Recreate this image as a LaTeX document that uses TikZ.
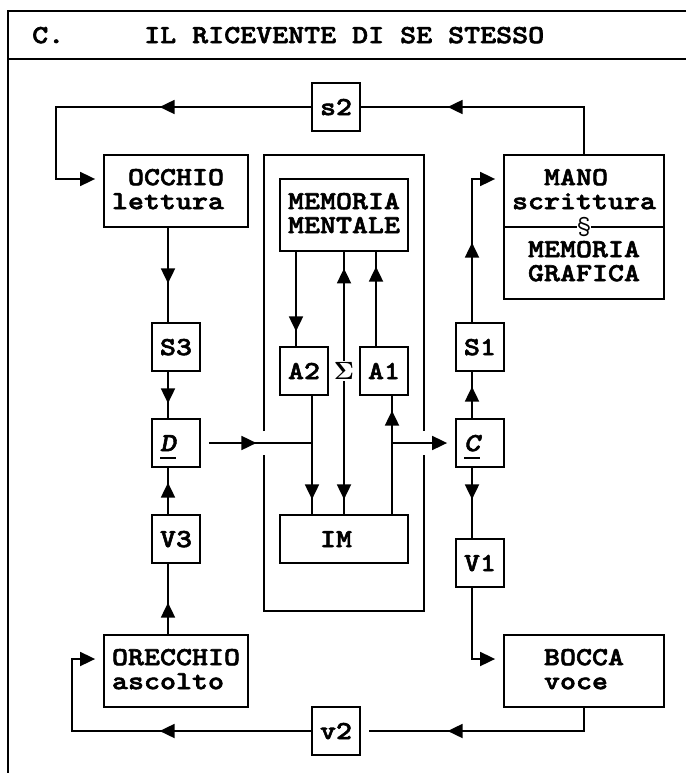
\documentclass[tikz,border=0pt]{standalone}
\usepackage{tikz}
\usepackage[no-math]{fontspec}
\usetikzlibrary{arrows.meta,decorations.markings}
\newfontfamily\cellafont{lmmonolt10-bold.otf}[FakeStretch=1.172, FakeBold=2.2]
\newfontfamily\cellaobliqua{lmmonolt10-boldoblique.otf}[FakeStretch=1.172, FakeBold=2.2]
\newcommand{\cella}{\cellafont\fontsize{26pt}{24pt}\selectfont}
\newcommand{\riga}{\rule[-3.9pt]{0pt}{24pt}}
\newcommand{\sotto}[1]{\rlap{\smash{\rule[-8pt]{16pt}{2.6pt}}}#1}

\begin{document}
\begin{tikzpicture}[x=16pt, y=-24pt,
  linea/.style={line width=1.8pt},
  casella/.style={draw, line width=1.8pt, inner sep=0pt, align=center, font=\cella,
    execute at begin node=\riga, execute at end node=\riga},
  quadro/.style={casella, minimum width=48pt, minimum height=48pt},
  organo/.style={casella, minimum width=144pt, minimum height=72pt},
  attivo/.style={casella, minimum width=160pt, minimum height=72pt},
  mente/.style={casella, minimum width=128pt, minimum height=#1},
  intestazione/.style={anchor=west, inner sep=0pt, font=\cella, execute at begin node=\riga},
  punta/.style={-{Triangle[length=15pt,width=14pt]}},
  freccia/.style={postaction={decorate, decoration={markings,
    mark=at position #1 with {\arrow{Triangle[length=15pt,width=14pt]}}}}},
  controfreccia/.style={postaction={decorate, decoration={markings,
    mark=at position #1 with {\arrowreversed{Triangle[length=15pt,width=14pt]}}}}}]
	\useasboundingbox (-0.5,-0.4583) rectangle (42.375,31.75);
	% cornice e intestazione
	\draw[linea] (42.375,0) -- (0,0) -- (0,31.75);
	\draw[linea] (0,2) -- (42.375,2);
	\node[intestazione] (sigla) at (1.5,1) {C.};
	\node[intestazione] (titolo) at (8.5,1) {IL RICEVENTE DI SE STESSO};
	% riquadro della mente
	\draw[linea] (16,17.5) -- (16,6) -- (26,6) -- (26,17.5);
	\draw[linea] (16,18.5) -- (16,25) -- (26,25) -- (26,18.5);
	% caselle
	\node[quadro] (s2) at (20.5,4) {s2};
	\node[organo] (occhio) at (10.5,7.5) {OCCHIO\\lettura\hphantom{l}};
	\node[mente=72pt] (memoria) at (21,8.5) {MEMORIA\\MENTALE};
	\node[casella, minimum width=160pt, minimum height=144pt] (mano) at (36,9)
		{MANO\hphantom{M}\\scrittura\\[24pt]MEMORIA\\GRAFICA};
	\node[quadro] (s3) at (10.5,14) {S3};
	\node[quadro] (a2) at (18.5,15) {A2};
	\node[quadro] (a1) at (23.5,15) {A1};
	\node[quadro] (s1) at (29.5,14) {S1};
	\node[quadro] (d) at (10.5,18) {\sotto{\cellaobliqua D}\hphantom{D}};
	\node[quadro] (c) at (29.5,18) {\sotto{\cellaobliqua C}\hphantom{C}};
	\node[quadro] (v3) at (10.5,22) {V3};
	\node[mente=48pt] (im) at (21,22) {IM\hphantom{I}};
	\node[quadro] (v1) at (29.5,23) {V1};
	\node[organo] (orecchio) at (10.5,27.5) {ORECCHIO\\ascolto\hphantom{a}};
	\node[attivo] (bocca) at (36,27.5) {BOCCA\\voce\hphantom{v}};
	\node[quadro] (v2) at (20.5,30) {v2};
	\coordinate (gomitoN) at (3,7);
	\coordinate (gomitoS) at (4,27);
	\coordinate (giunzioneS) at (19,18);
	\coordinate (giunzioneD) at (24,18);
	% anello della scrittura
	\draw[linea, freccia=183.5pt] (mano.north) |- (s2.east);
	\draw[linea, punta, shorten >=8pt, freccia=151.5pt] (s2.west) -| (gomitoN) -- (gomitoN -| occhio.west);
	% colonna della lettura
	\draw[linea, freccia=55.5pt] ([xshift=-8pt]occhio.south) -- ([xshift=-8pt]s3.north);
	\draw[linea, freccia=31.5pt] ([xshift=-8pt]s3.south) -- ([xshift=-8pt]d.north);
	\draw[linea, freccia=31.5pt] ([xshift=-8pt]v3.north) -- ([xshift=-8pt]d.south);
	\draw[linea, freccia=31.5pt] ([xshift=-8pt]orecchio.north) -- ([xshift=-8pt]v3.south);
	% dentro la mente
	\draw[linea, freccia=47.5pt] ([xshift=8pt]d.east) -- (giunzioneS);
	\draw[linea, freccia=79.5pt] ([xshift=-48pt]memoria.south) -- ([xshift=-8pt]a2.north);
	\draw[linea, freccia=103.5pt] ([xshift=8pt]a2.south) -- ([xshift=-32pt]im.north);
	\draw[linea, controfreccia=16.5pt, freccia=247.5pt] (memoria.south) -- (im.north);
	\node[fill=white, inner sep=1pt, font=\fontsize{23pt}{24pt}\selectfont] (sigma) at (21,15) {$\mathbf{\Sigma}$};
	\draw[linea, freccia=79.5pt] ([xshift=-8pt]a1.north) -- ([xshift=32pt]memoria.south);
	\draw[linea, freccia=103.5pt] ([xshift=48pt]im.north) -- ([xshift=8pt]a1.south);
	\draw[linea, punta, shorten >=8pt] (giunzioneD) -- (c.west);
	% colonna della parola
	\draw[linea, freccia=31.5pt] ([xshift=-8pt]c.north) -- ([xshift=-8pt]s1.south);
	\draw[linea, punta, shorten >=8pt, freccia=79.5pt] ([xshift=-8pt]s1.north) |- ([yshift=48pt]mano.west);
	\draw[linea, freccia=31.5pt] ([xshift=-8pt]c.south) -- ([xshift=-8pt]v1.north);
	\draw[linea, punta, shorten >=8pt] ([xshift=-8pt]v1.south) |- ([yshift=12pt]bocca.west);
	% memoria grafica
	\draw[linea] (mano.west) -- (mano.east);
	\node[fill=white, inner sep=0.5pt, font=\ttfamily\fontsize{26pt}{24pt}\selectfont] (paragrafo) at (mano.center) {\S};
	% anello della voce
	\draw[linea, freccia=159.5pt] (bocca.south) |- ([xshift=8pt]v2.east);
	\draw[linea, punta, shorten >=8pt, freccia=151.5pt] (v2.west) -| (gomitoS) -- (gomitoS -| orecchio.west);
\end{tikzpicture}
\end{document}
